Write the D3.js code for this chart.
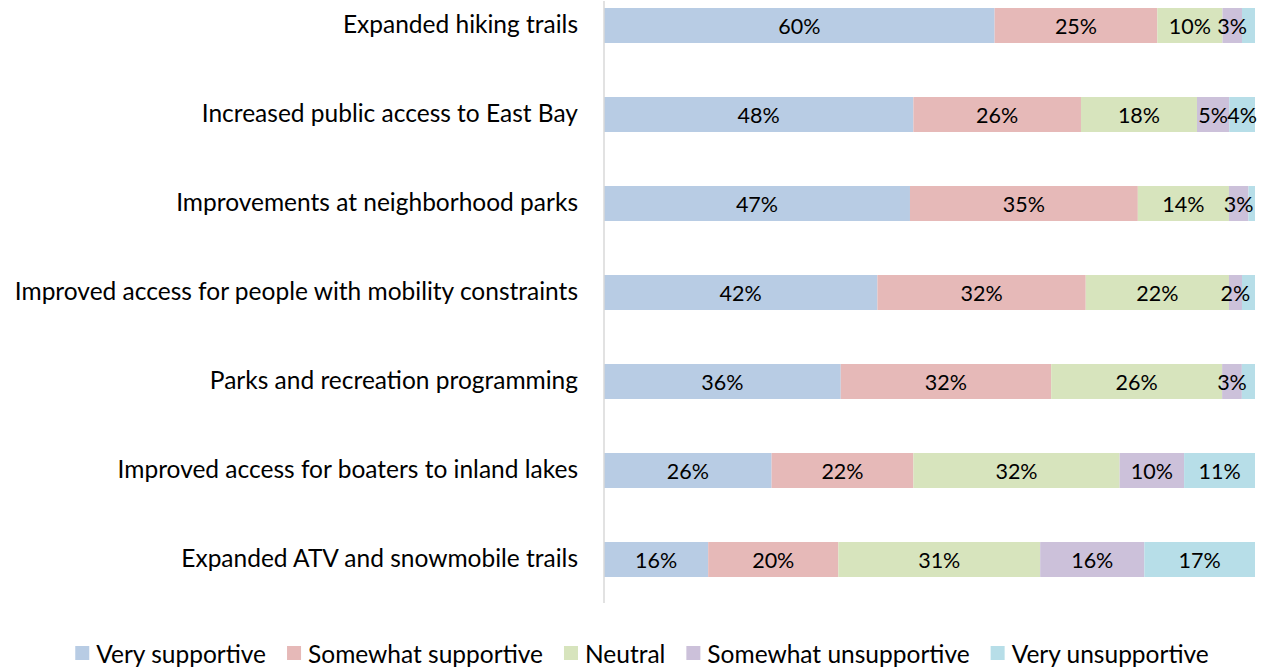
<!DOCTYPE html>
<html>
<head>
<meta charset="utf-8">
<script src="https://cdn.jsdelivr.net/npm/d3@7"></script>
<style>
  body { margin: 0; background: #fff; }
  svg text { font-family: Lato, "Open Sans", sans-serif; fill: #000; }
</style>
</head>
<body>
<svg id="chart"></svg>
<script>
let categories = [
  "Expanded hiking trails",
  "Increased public access to East Bay",
  "Improvements at neighborhood parks",
  "Improved access for people with mobility constraints",
  "Parks and recreation programming",
  "Improved access for boaters to inland lakes",
  "Expanded ATV and snowmobile trails"
];
let seriesNames = ["Very supportive", "Somewhat supportive", "Neutral", "Somewhat unsupportive", "Very unsupportive"];
let verySupportive     = [60, 48, 47, 42, 36, 26, 16];
let somewhatSupportive = [25, 26, 35, 32, 32, 22, 20];
let neutral            = [10, 18, 14, 22, 26, 32, 31];
let somewhatUnsupp     = [3, 5, 3, 2, 3, 10, 16];
let veryUnsupp         = [2, 4, 1, 2, 2, 11, 17];
let colors = ["#b8cce4", "#e6b9b8", "#d7e4bd", "#ccc1da", "#b7dee8"];

let width = 1267;
let height = 667;
let left = 604;
let right = 1255;
let svg = d3.select("svg");

let drawCanvas = () => {
    svg.attr("width", width);
    svg.attr("height", height);
}

let rows = categories.map((c, i) => ({
    cat: c,
    "Very supportive": verySupportive[i],
    "Somewhat supportive": somewhatSupportive[i],
    "Neutral": neutral[i],
    "Somewhat unsupportive": somewhatUnsupp[i],
    "Very unsupportive": veryUnsupp[i]
}));

let stack = d3.stack().keys(seriesNames).offset(d3.stackOffsetExpand)(rows);

let xScale = d3.scaleLinear().domain([0, 1]).range([left, right]);
let yScale = d3.scaleBand().domain(categories).range([-19, 604]).paddingInner(0.607).paddingOuter(0.3035);
let color = d3.scaleOrdinal().domain(seriesNames).range(colors);

let drawBars = () => {
    let groups = svg.selectAll("g.series")
        .data(stack)
        .enter().append("g")
        .attr("class", "series")
        .attr("fill", d => color(d.key));

    groups.selectAll("rect")
        .data(d => d)
        .enter().append("rect")
        .attr("x", d => xScale(d[0]))
        .attr("y", d => yScale(d.data.cat))
        .attr("width", d => xScale(d[1]) - xScale(d[0]))
        .attr("height", yScale.bandwidth());

    // data labels (tiny "very unsupportive" ones were left off in the original)
    stack.forEach((s, si) => {
        svg.append("g").selectAll("text")
            .data(s.filter(d => !(si === 4 && d.data[s.key] < 3)))
            .enter().append("text")
            .attr("x", d => (xScale(d[0]) + xScale(d[1])) / 2)
            .attr("y", d => yScale(d.data.cat) + yScale.bandwidth() / 2)
            .attr("text-anchor", "middle")
            .attr("dominant-baseline", "central")
            .attr("font-size", 21.5)
            .text(d => d.data[s.key] + "%");
    });
}

let drawAxis = () => {
    let yAxis = d3.axisLeft(yScale).tickSize(0).tickPadding(26);
    let g = svg.append("g")
        .attr("transform", "translate(" + left + ",0)")
        .call(yAxis);
    g.select(".domain").remove();
    g.selectAll("text")
        .attr("font-size", 24.5)
        .attr("fill", "#000")
        .style("font-family", "Lato, 'Open Sans', sans-serif");

    svg.append("line")
        .attr("x1", left).attr("x2", left)
        .attr("y1", 1).attr("y2", 603)
        .attr("stroke", "#d9d9d9")
        .attr("stroke-width", 1.5);
}

let drawLegend = () => {
    let lg = svg.append("g");
    let items = lg.selectAll("g").data(seriesNames).enter().append("g");
    items.append("rect")
        .attr("width", 14).attr("height", 14)
        .attr("y", -7)
        .attr("fill", d => color(d));
    items.append("text")
        .attr("x", 21)
        .attr("dominant-baseline", "central")
        .attr("font-size", 24.5)
        .text(d => d);
    let gap = 21;
    let x = 0;
    items.each(function () {
        let w = d3.select(this).select("text").node().getComputedTextLength();
        d3.select(this).attr("transform", "translate(" + x + ",0)");
        x += 21 + w + gap;
    });
    let total = x - gap;
    lg.attr("transform", "translate(" + (642 - total / 2) + ",653)");
}

drawCanvas();
drawBars();
drawAxis();
drawLegend();
</script>
</body>
</html>
